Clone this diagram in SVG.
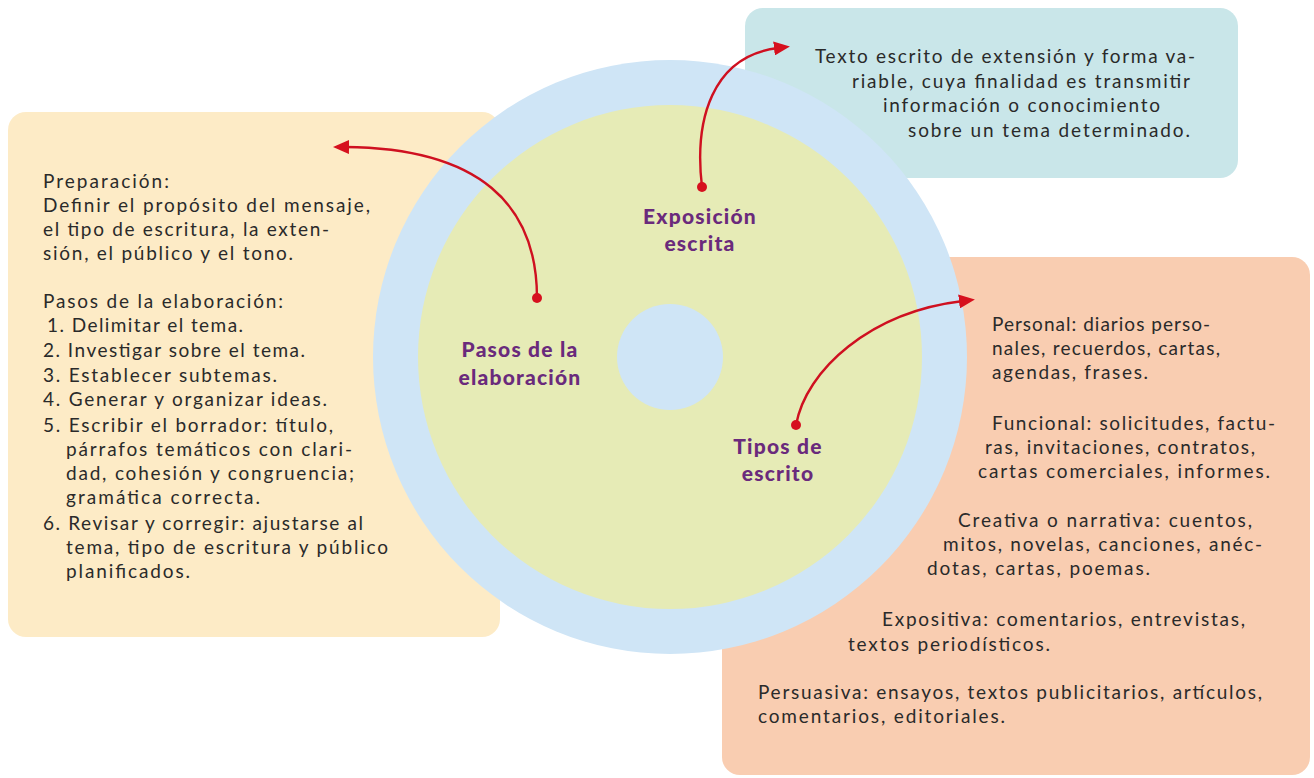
<svg xmlns="http://www.w3.org/2000/svg" width="1314" height="778" viewBox="0 0 1314 778">
<defs>
<style>
.t{font-family:Lato,"Liberation Sans",sans-serif;font-size:19px;fill:#2a2a2a}
.h{font-family:Lato,"Liberation Sans",sans-serif;font-size:21px;font-weight:900;fill:#6a2a7c;text-anchor:middle;letter-spacing:1.2px}
.con{fill:none;stroke:#cf1020;stroke-width:2.4}
.dot{fill:#d6101e}
</style>
<marker id="ah" viewBox="0 0 16 14" refX="4" refY="7" markerWidth="16" markerHeight="14" orient="auto" markerUnits="userSpaceOnUse">
<path d="M0,0 L16,7 L0,14 Z" fill="#d6101e"/>
</marker>
</defs>
<rect width="1314" height="778" fill="#ffffff"/>
<g id="box-pasos">
<rect x="8" y="112" width="492" height="525" rx="18" fill="#fdebc6"/>
<text class="t" x="43" y="188" textLength="126">Preparación:</text>
<text class="t" x="43" y="212" textLength="327">Definir el propósito del mensaje,</text>
<text class="t" x="43" y="236" textLength="286">el tipo de escritura, la exten-</text>
<text class="t" x="43" y="260" textLength="250">sión, el público y el tono.</text>
<text class="t" x="43" y="308" textLength="240">Pasos de la elaboración:</text>
<text class="t" x="47" y="332" textLength="196">1. Delimitar el tema.</text>
<text class="t" x="43" y="357" textLength="262">2. Investigar sobre el tema.</text>
<text class="t" x="43" y="382" textLength="234">3. Establecer subtemas.</text>
<text class="t" x="43" y="406" textLength="284">4. Generar y organizar ideas.</text>
<text class="t" x="43" y="432" textLength="290">5. Escribir el borrador: título,</text>
<text class="t" x="66" y="456" textLength="286">párrafos temáticos con clari-</text>
<text class="t" x="66" y="480" textLength="288">dad, cohesión y congruencia;</text>
<text class="t" x="66" y="504" textLength="194">gramática correcta.</text>
<text class="t" x="43" y="530" textLength="320">6. Revisar y corregir: ajustarse al</text>
<text class="t" x="66" y="554" textLength="322">tema, tipo de escritura y público</text>
<text class="t" x="66" y="578" textLength="124">planificados.</text>
</g>
<g id="box-exposicion">
<rect x="745" y="8" width="493" height="170" rx="18" fill="#c9e6e9"/>
<text class="t" x="815" y="63" textLength="380">Texto escrito de extensión y forma va-</text>
<text class="t" x="852" y="88" textLength="338">riable, cuya finalidad es transmitir</text>
<text class="t" x="883" y="112" textLength="277">información o conocimiento</text>
<text class="t" x="908" y="137" textLength="282">sobre un tema determinado.</text>
</g>
<g id="box-tipos">
<rect x="722" y="257" width="588" height="518" rx="18" fill="#f9cdb1"/>
<text class="t" x="992" y="331" textLength="218">Personal: diarios perso-</text>
<text class="t" x="992" y="355" textLength="228">nales, recuerdos, cartas,</text>
<text class="t" x="992" y="379" textLength="156">agendas, frases.</text>
<text class="t" x="992" y="430" textLength="283">Funcional: solicitudes, factu-</text>
<text class="t" x="985" y="454" textLength="270">ras, invitaciones, contratos,</text>
<text class="t" x="978" y="478" textLength="292">cartas comerciales, informes.</text>
<text class="t" x="958" y="527" textLength="294">Creativa o narrativa: cuentos,</text>
<text class="t" x="943" y="551" textLength="319">mitos, novelas, canciones, anéc-</text>
<text class="t" x="927" y="575" textLength="223">dotas, cartas, poemas.</text>
<text class="t" x="882" y="626" textLength="363">Expositiva: comentarios, entrevistas,</text>
<text class="t" x="848" y="651" textLength="202">textos periodísticos.</text>
<text class="t" x="758" y="699" textLength="504">Persuasiva: ensayos, textos publicitarios, artículos,</text>
<text class="t" x="758" y="723" textLength="247">comentarios, editoriales.</text>
</g>
<g id="circle">
<circle cx="670" cy="357" r="297" fill="#cfe5f6"/>
<circle cx="670" cy="357" r="252" fill="#e6ebb6"/>
<circle cx="670" cy="357" r="53" fill="#cfe5f6"/>
</g>
<g id="label-exposicion">
<text class="h" x="700" y="224">Exposición</text>
<text class="h" x="700" y="251">escrita</text>
</g>
<g id="label-pasos">
<text class="h" x="520" y="357">Pasos de la</text>
<text class="h" x="520" y="385">elaboración</text>
</g>
<g id="label-tipos">
<text class="h" x="778" y="454">Tipos de</text>
<text class="h" x="778" y="481">escrito</text>
</g>
<g id="connectors">
<path class="con" d="M537,298 C537,205 480,148 345,147" marker-end="url(#ah)"/>
<path class="con" d="M702,187 C694,120 712,56 778,48" marker-end="url(#ah)"/>
<path class="con" d="M796,425 C806,370 870,312 963,301" marker-end="url(#ah)"/>
<circle class="dot" cx="537" cy="298" r="5"/>
<circle class="dot" cx="702" cy="187" r="5"/>
<circle class="dot" cx="796" cy="425" r="5"/>
</g>
</svg>
